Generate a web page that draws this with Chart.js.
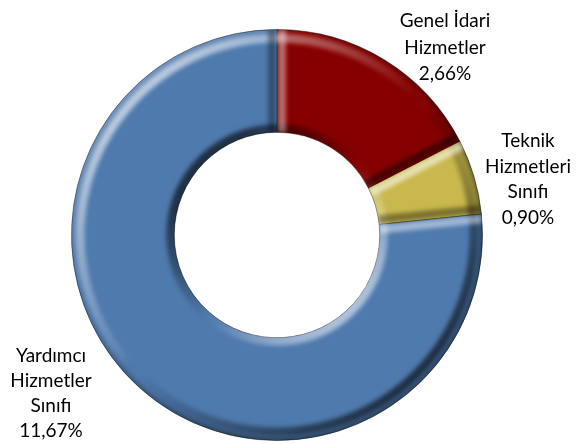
<!DOCTYPE html>
<html>
<head>
<meta charset="utf-8">
<script src="https://cdn.jsdelivr.net/npm/chart.js@4.4.0/dist/chart.umd.min.js"></script>
<style>
    html, body { margin: 0; padding: 0; background: #fff; }
</style>
</head>
<body>
<canvas id="pieChart" width="579" height="444"></canvas>
<script>
// Veriler
const labels = [
    ['Genel İdari', 'Hizmetler'],
    ['Teknik', 'Hizmetleri', 'Sınıfı'],
    ['Yardımcı', 'Hizmetler', 'Sınıfı'],
];
const values = [2.66, 0.90, 11.67];
const valueLabels = ['2,66%', '0,90%', '11,67%'];
const colors = ['#860000', '#C9B84D', '#4F7AAD'];

// etiketlerin yeri (merkeze göre, ilk satırın taban çizgisi)
const labelPlace = [
    { dx: 168, dy: -208, lh: 26.5 },
    { dx: 251, dy: -88, lh: 25.7 },
    { dx: -226, dy: 127, lh: 25 },
];

const ctx = document.getElementById('pieChart').getContext('2d');

// ışık sol üstten geliyor
const LIGHT = -3 * Math.PI / 4;

function shade(s, k) {
    return s >= 0 ? `rgba(255,255,255,${(s * k).toFixed(3)})` : `rgba(0,0,0,${(-s * k).toFixed(3)})`;
}

function conic(c, x, y, sign, k, bias) {
    const g = c.createConicGradient(0, x, y);
    const n = 48;
    for (let i = 0; i <= n; i++) {
        const phi = i / n * Math.PI * 2;
        const s = sign * Math.cos(phi - LIGHT) + (bias || 0);
        g.addColorStop(i / n, shade(Math.max(-1, Math.min(1, s)), k));
    }
    return g;
}

function band(c, x, y, r1, r2) {
    c.beginPath();
    c.arc(x, y, r2, 0, Math.PI * 2);
    c.arc(x, y, r1, Math.PI * 2, 0, true);
    c.closePath();
    c.fill();
}

// kabartma efekti (bevel)
const bevelPlugin = {
    id: 'bevel',
    afterDatasetsDraw(chart) {
        const meta = chart.getDatasetMeta(0);
        const c = chart.ctx;
        meta.data.forEach(arc => {
            const { x, y, startAngle, endAngle, innerRadius, outerRadius } = arc.getProps(
                ['x', 'y', 'startAngle', 'endAngle', 'innerRadius', 'outerRadius'], true);
            const R = outerRadius;
            const r = innerRadius;
            c.save();
            c.beginPath();
            c.arc(x, y, R, startAngle, endAngle);
            c.arc(x, y, r, endAngle, startAngle, true);
            c.closePath();
            c.clip();

            c.filter = 'blur(2px)';
            // dış kenar
            c.fillStyle = conic(c, x, y, 1, 0.6);
            band(c, x, y, R - 13, R - 4);
            c.fillStyle = conic(c, x, y, 1, 0.45, -0.6);
            band(c, x, y, R - 3, R + 4);
            // iç kenar
            c.fillStyle = conic(c, x, y, -1, 0.6, -0.1);
            band(c, x, y, r - 4, r + 8);

            // radyal kenarlar
            const edges = [
                { a: startAngle, nx: Math.sin(startAngle), ny: -Math.cos(startAngle) },
                { a: endAngle, nx: -Math.sin(endAngle), ny: Math.cos(endAngle) },
            ];
            edges.forEach(e => {
                const s = e.nx * Math.cos(LIGHT) + e.ny * Math.sin(LIGHT);
                const ox = -e.nx * 5;
                const oy = -e.ny * 5;
                c.lineWidth = 8;
                c.strokeStyle = shade(s, s > 0 ? 0.6 : 0.5);
                c.beginPath();
                c.moveTo(x + Math.cos(e.a) * r + ox, y + Math.sin(e.a) * r + oy);
                c.lineTo(x + Math.cos(e.a) * R + ox, y + Math.sin(e.a) * R + oy);
                c.stroke();
            });
            c.restore();
        });
    },
};

// dış etiketler
const outLabelPlugin = {
    id: 'outLabels',
    afterDraw(chart) {
        const meta = chart.getDatasetMeta(0);
        const c = chart.ctx;
        c.save();
        c.font = '19px Lato';
        c.fillStyle = '#000';
        c.textAlign = 'center';
        c.textBaseline = 'alphabetic';
        meta.data.forEach((arc, i) => {
            const { x, y } = arc.getProps(['x', 'y'], true);
            const p = labelPlace[i];
            const lines = labels[i].concat([valueLabels[i]]);
            lines.forEach((line, k) => {
                c.fillText(line, x + p.dx, y + p.dy + k * p.lh);
            });
        });
        c.restore();
    },
};

new Chart(ctx, {
    type: 'doughnut',
    data: {
        labels: labels.map(l => l.join(' ')),
        datasets: [{
            data: values,
            backgroundColor: colors,
            borderColor: 'rgba(0,0,0,0.45)',
            borderWidth: 1,
        }],
    },
    options: {
        responsive: false,
        animation: false,
        cutout: '50%',
        layout: { padding: { top: 29, bottom: 3, left: 0, right: 25 } },
        plugins: {
            legend: { display: false },
            tooltip: { enabled: false },
        },
    },
    plugins: [bevelPlugin, outLabelPlugin],
});
</script>
</body>
</html>
